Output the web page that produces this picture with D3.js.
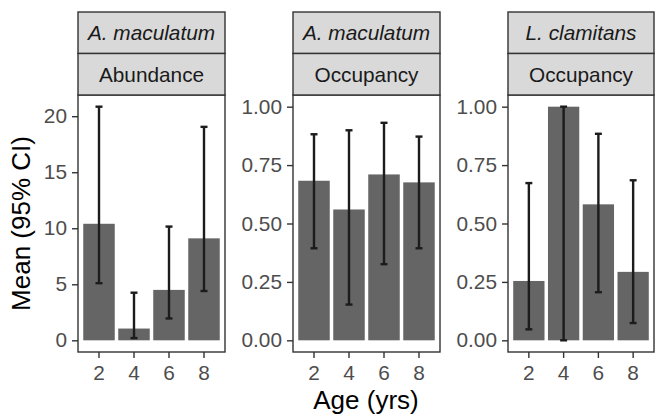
<!DOCTYPE html>
<html>
<head>
<meta charset="utf-8">
<script src="https://cdn.jsdelivr.net/npm/d3@7"></script>
<style>
  body { margin: 0; background: #fff; }
  text { font-family: "Liberation Sans", Arial, sans-serif; }
</style>
</head>
<body>
<div id="chart"></div>
<script>
// x categories (age in years)
let ages = ["2", "4", "6", "8"];

// facet labels
let species = ["A. maculatum", "A. maculatum", "L. clamitans"];
let measures = ["Abundance", "Occupancy", "Occupancy"];

// A. maculatum abundance
let abundMean = [10.4, 1.05, 4.5, 9.1];
let abundLow = [5.1, 0.2, 1.95, 4.4];
let abundHigh = [20.85, 4.25, 10.15, 19.05];

// A. maculatum occupancy
let amOccMean = [0.683, 0.56, 0.71, 0.676];
let amOccLow = [0.394, 0.153, 0.326, 0.394];
let amOccHigh = [0.882, 0.899, 0.931, 0.872];

// L. clamitans occupancy
let lcOccMean = [0.254, 1.0, 0.582, 0.293];
let lcOccLow = [0.047, 0.0, 0.206, 0.074];
let lcOccHigh = [0.673, 1.0, 0.884, 0.685];

// y ticks
let abundTicks = [0, 5, 10, 15, 20];
let occTicks = [0, 0.25, 0.5, 0.75, 1];

let width = 655,
  height = 418;

let panelTop = 95,
  panelBottom = 352,
  stripTop = 12,
  stripH = 41.5;

let panelX = [
  [78, 225],
  [293, 440],
  [508, 654]
];

function rows(mean, low, high) {
  return ages.map(function(a, i) {
    return { age: a, mean: mean[i], low: low[i], high: high[i] };
  });
}

let panels = [
  { data: rows(abundMean, abundLow, abundHigh), ticks: abundTicks, fmt: d3.format("d"), max: d3.max(abundHigh) },
  { data: rows(amOccMean, amOccLow, amOccHigh), ticks: occTicks, fmt: d3.format(".2f"), max: 1 },
  { data: rows(lcOccMean, lcOccLow, lcOccHigh), ticks: occTicks, fmt: d3.format(".2f"), max: 1 }
];

let svg = d3
  .select("#chart")
  .append("svg")
  .attr("width", width)
  .attr("height", height);

panels.forEach(function(p, k) {
  let x0 = panelX[k][0],
    x1 = panelX[k][1];

  // ggplot-like 5% expansion
  let pad = p.max * 0.05;
  let y = d3.scaleLinear().domain([-pad, p.max + pad]).range([panelBottom, panelTop]);
  let x = d3.scaleBand().domain(ages).range([x0, x1]).paddingInner(0.1).paddingOuter(0.15);

  let g = svg.append("g");

  // bars
  g.selectAll(".bar")
    .data(p.data)
    .enter()
    .append("rect")
    .attr("class", "bar")
    .attr("x", function(d) { return x(d.age); })
    .attr("width", x.bandwidth())
    .attr("y", function(d) { return y(d.mean); })
    .attr("height", function(d) { return y(0) - y(d.mean); })
    .attr("fill", "#656565");

  // error bars
  let cap = x.step() * 0.2;
  let eb = g.selectAll(".eb")
    .data(p.data)
    .enter()
    .append("g")
    .attr("class", "eb")
    .attr("stroke", "#1c1c1c")
    .attr("stroke-width", 2.4);

  eb.append("line")
    .attr("x1", function(d) { return x(d.age) + x.bandwidth() / 2; })
    .attr("x2", function(d) { return x(d.age) + x.bandwidth() / 2; })
    .attr("y1", function(d) { return y(d.low); })
    .attr("y2", function(d) { return y(d.high); });

  ["low", "high"].forEach(function(key) {
    eb.append("line")
      .attr("x1", function(d) { return x(d.age) + x.bandwidth() / 2 - cap / 2; })
      .attr("x2", function(d) { return x(d.age) + x.bandwidth() / 2 + cap / 2; })
      .attr("y1", function(d) { return y(d[key]); })
      .attr("y2", function(d) { return y(d[key]); });
  });

  // y axis
  let yAxis = d3.axisLeft(y).tickValues(p.ticks).tickFormat(p.fmt).tickSize(6).tickPadding(5);
  let ya = g.append("g")
    .attr("transform", "translate(" + x0 + ",0)")
    .call(yAxis);
  ya.select(".domain").remove();
  ya.selectAll(".tick line").attr("stroke", "#333").attr("stroke-width", 1.4);
  ya.selectAll(".tick text")
    .attr("fill", "#4d4d4d")
    .style("font-size", "20.8px")
    .style("font-family", "Liberation Sans, Arial, sans-serif");

  // x axis
  let xAxis = d3.axisBottom(x).tickSize(6).tickPadding(7);
  let xa = g.append("g")
    .attr("transform", "translate(0," + panelBottom + ")")
    .call(xAxis);
  xa.select(".domain").remove();
  xa.selectAll(".tick line").attr("stroke", "#333").attr("stroke-width", 1.4);
  xa.selectAll(".tick text")
    .attr("fill", "#4d4d4d")
    .style("font-size", "20.8px")
    .style("font-family", "Liberation Sans, Arial, sans-serif");

  // panel border
  g.append("rect")
    .attr("x", x0)
    .attr("y", panelTop)
    .attr("width", x1 - x0)
    .attr("height", panelBottom - panelTop)
    .attr("fill", "none")
    .attr("stroke", "#333")
    .attr("stroke-width", 1.4);

  // strips
  let labels = [species[k], measures[k]];
  labels.forEach(function(lab, j) {
    let sy = stripTop + j * stripH;
    g.append("rect")
      .attr("x", x0)
      .attr("y", sy)
      .attr("width", x1 - x0)
      .attr("height", stripH)
      .attr("fill", "#d9d9d9")
      .attr("stroke", "#333")
      .attr("stroke-width", 1.4);
    g.append("text")
      .attr("x", (x0 + x1) / 2)
      .attr("y", sy + stripH / 2)
      .attr("dy", "0.36em")
      .attr("text-anchor", "middle")
      .attr("fill", "#1a1a1a")
      .style("font-size", "20.8px")
      .style("font-style", j === 0 ? "italic" : "normal")
      .text(lab);
  });
});

// axis titles
svg.append("text")
  .attr("transform", "translate(30," + (panelTop + panelBottom) / 2 + ") rotate(-90)")
  .attr("text-anchor", "middle")
  .attr("fill", "#000")
  .style("font-size", "26px")
  .text("Mean (95% CI)");

svg.append("text")
  .attr("x", (panelX[0][0] + panelX[2][1]) / 2)
  .attr("y", 409)
  .attr("text-anchor", "middle")
  .attr("fill", "#000")
  .style("font-size", "26px")
  .text("Age (yrs)");
</script>
</body>
</html>
